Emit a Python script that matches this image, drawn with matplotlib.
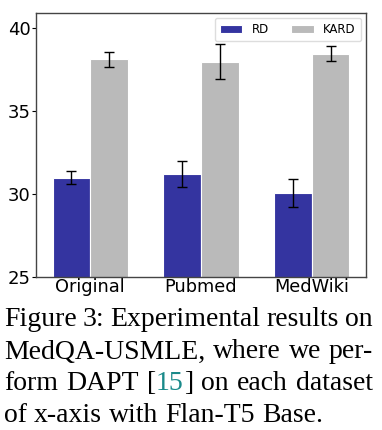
import matplotlib
matplotlib.use("Agg")
import matplotlib.pyplot as plt
import numpy as np

categories = ["Original", "Pubmed", "MedWiki"]
rd_values = [30.97, 31.2, 30.05]
rd_errors = [0.38, 0.78, 0.82]
kard_values = [38.11, 37.97, 38.43]
kard_errors = [0.45, 1.08, 0.45]
y_ticks = [25, 30, 35, 40]

caption_lines = [
    "Figure 3: Experimental results on",
    "MedQA-USMLE, where we per-",
    "form DAPT [15] on each dataset",
    "of x-axis with Flan-T5 Base.",
]

fig = plt.figure(figsize=(3.82, 4.30), dpi=100)
ax = fig.add_axes([0.094, 0.356, 0.864, 0.614])

x = np.arange(len(categories))
w = 0.34
err_kw = dict(ecolor="black", elinewidth=1.0, capsize=3.3, capthick=1.0)
ax.bar(x - w / 2, rd_values, w, yerr=rd_errors, color="#3434a0",
       edgecolor="white", linewidth=0.8, label="RD", error_kw=err_kw)
ax.bar(x + w / 2, kard_values, w, yerr=kard_errors, color="#bababa",
       edgecolor="white", linewidth=0.8, label="KARD", error_kw=err_kw)

ax.set_ylim(25, 40.9)
ax.set_xlim(-0.49, 2.49)
ax.set_yticks(y_ticks)
ax.set_xticks(x)
ax.set_xticklabels(categories)
ax.tick_params(axis="x", length=0, labelsize=12.8, pad=1)
ax.tick_params(axis="y", length=3, labelsize=13, pad=1)
for s in ax.spines.values():
    s.set_color("#444444")
    s.set_linewidth(1.0)

ax.legend(loc="upper right", ncol=2, fontsize=8.5, frameon=True,
          handlelength=1.9, handleheight=0.6, columnspacing=1.9,
          handletextpad=0.8, borderpad=0.45, fancybox=True, framealpha=1,
          edgecolor="#dddddd", borderaxespad=0.4)

# caption with justified lines
fig.canvas.draw()
renderer = fig.canvas.get_renderer()
fs = 20
fam = "Liberation Serif"
left_px, right_px = 4, 373
line_y_px = [320, 352, 384, 415]
W, H = fig.get_size_inches() * fig.dpi

def measure(s):
    t = fig.text(0, 0, s, fontsize=fs, family=fam)
    bb = t.get_window_extent(renderer)
    t.remove()
    return bb.width

for i, line in enumerate(caption_lines):
    words = line.split(" ")
    widths = [measure(wd) for wd in words]
    justify = i < len(caption_lines) - 1
    if justify:
        gap = (right_px - left_px - sum(widths)) / (len(words) - 1)
    else:
        gap = measure("a b") - measure("a") - measure("b")
    xp = left_px
    yf = 1 - line_y_px[i] / H
    for wd, wdw in zip(words, widths):
        if wd == "[15]":
            pieces = [("[", "black"), ("15", "#1a8a8a"), ("]", "black")]
            xx = xp
            for p, c in pieces:
                fig.text(xx / W, yf, p, fontsize=fs, family=fam, color=c, va="center")
                xx += measure(p)
        else:
            fig.text(xp / W, yf, wd, fontsize=fs, family=fam, color="black", va="center")
        xp += wdw + gap

fig.savefig("out.png", dpi=100)
